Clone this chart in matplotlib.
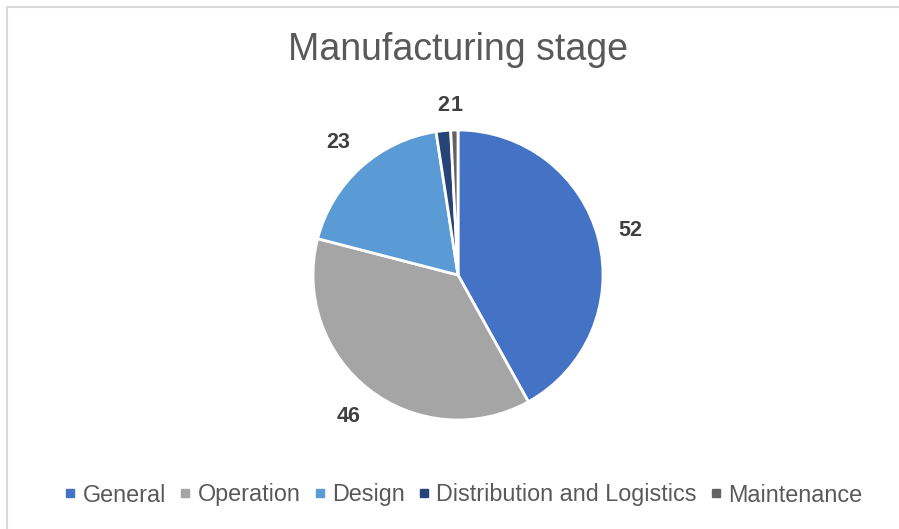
import matplotlib.pyplot as plt
from matplotlib.lines import Line2D
from matplotlib.patches import Rectangle

plt.rcParams['font.family'] = ['Liberation Sans', 'DejaVu Sans']

categories = ["General", "Operation", "Design", "Distribution and Logistics", "Maintenance"]
values = [52, 46, 23, 2, 1]
colors = ["#4472C4", "#A5A5A5", "#5B9BD5", "#264478", "#636363"]

W, H = 899, 529
fig = plt.figure(figsize=(W / 100, H / 100), dpi=100)
fig.patch.set_facecolor('white')

# light frame, only top/left edges visible as in the original
fig.add_artist(Rectangle((7 / W, -0.1), 1.2, 1 - 7 / H + 0.1, transform=fig.transFigure,
                         fill=False, edgecolor='#D9D9D9', linewidth=1.5))

cx, cy, r = 458, 275, 145
ax = fig.add_axes([(cx - r) / W, (H - cy - r) / H, 2 * r / W, 2 * r / H])
wedges, texts = ax.pie(values, colors=colors, startangle=90, counterclock=False,
                       labels=[str(v) for v in values], labeldistance=1.23,
                       wedgeprops=dict(edgecolor='white', linewidth=2),
                       textprops=dict(fontsize=15.5, fontweight='bold', color='#404040'))
ax.set_xlim(-1, 1)
ax.set_ylim(-1, 1)
ax.set_aspect('equal')
for t in texts:
    t.set_ha('center')
    t.set_va('center')
# the two tiny slices sit a little closer to the rim
texts[3].set_position((texts[3].get_position()[0] + 0.02, 1.17))
texts[4].set_position((texts[4].get_position()[0] + 0.02, 1.17))

fig.text(0.509, (H - 50) / H, "Manufacturing stage", ha='center', va='center',
         fontsize=27, color='#595959')

handles = [Line2D([], [], marker='s', linestyle='none', markersize=6,
                  markerfacecolor=c, markeredgecolor=c) for c in colors]
fig.legend(handles, categories, loc='center', bbox_to_anchor=(0.515, (H - 495) / H),
           ncol=5, frameon=False, fontsize=16.8, handlelength=0.55, handletextpad=0.25,
           columnspacing=0.55, labelcolor='#595959')

fig.savefig("out.png", dpi=100)
